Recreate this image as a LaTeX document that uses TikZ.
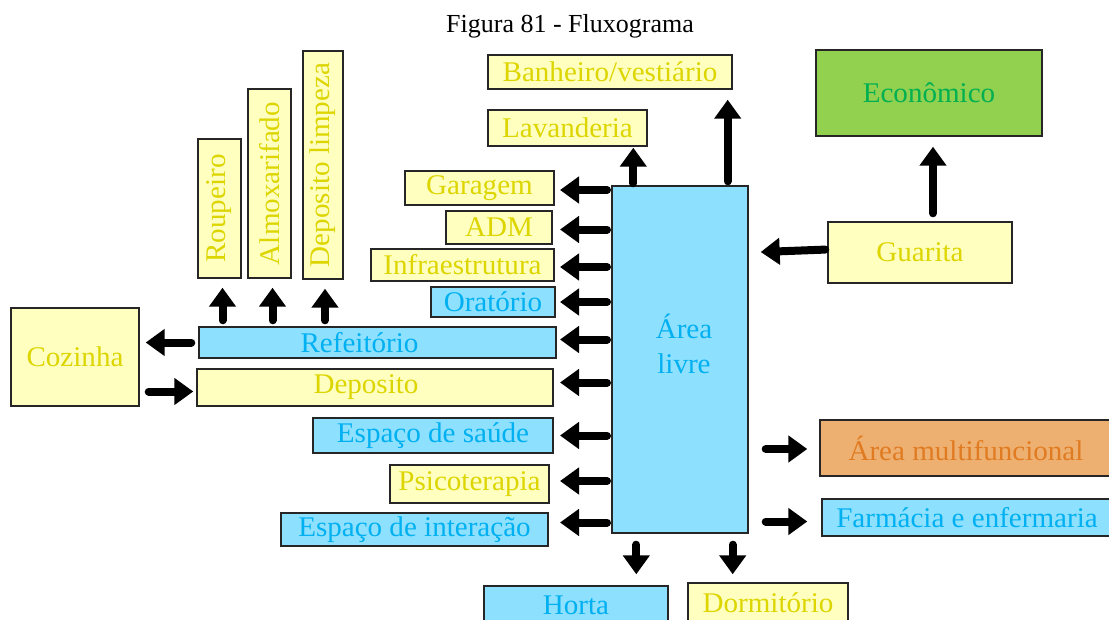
\documentclass[tikz,border=0pt]{standalone}
\usepackage{fontspec}
\setmainfont{Liberation Serif}[FakeStretch=1.02]
\newfontfamily\titlefont{Liberation Serif}
\usetikzlibrary{arrows.meta}
\definecolor{yfill}{HTML}{FFFFC0}
\definecolor{ytext}{HTML}{DDD500}
\definecolor{bfill}{HTML}{8EE0FF}
\definecolor{btext}{HTML}{00B0F0}
\definecolor{gfill}{HTML}{92D050}
\definecolor{gtext}{HTML}{00B050}
\definecolor{ofill}{HTML}{EEB070}
\definecolor{otext}{HTML}{E07B22}
\definecolor{boxline}{HTML}{262626}
\begin{document}
\begin{tikzpicture}[x=1pt,y=-1pt,
  box/.style={draw=boxline, line width=1.4pt, inner sep=0pt, font=\fontsize{28.5}{30}\selectfont},
  ybox/.style={box, fill=yfill, text=ytext},
  bbox/.style={box, fill=bfill, text=btext},
  gbox/.style={box, fill=gfill, text=gtext},
  obox/.style={box, fill=ofill, text=otext},
  arr/.style={line width=8pt, line cap=round, -{Triangle[width=26pt,length=19pt]}}]
\useasboundingbox (0,0) rectangle (1109,619);
\clip (0,0) rectangle (1109,619);
\node[font=\titlefont\fontsize{26}{28}\selectfont] (title) at (570,26) {Figura 81 - Fluxograma};
% boxes
\node[ybox, minimum width=244pt, minimum height=34pt] (ban) at (610,72) {Banheiro/vestiário};
\node[ybox, minimum width=159pt, minimum height=36pt] (lav) at (567.5,128) {Lavanderia};
\node[ybox, minimum width=149pt, minimum height=34pt] (gar) at (479.5,188) {Garagem};
\node[ybox, minimum width=106pt, minimum height=33pt] (adm) at (499,227.5) {ADM};
\node[ybox, minimum width=183pt, minimum height=32pt] (inf) at (462.5,265) {Infraestrutura};
\node[bbox, minimum width=124pt, minimum height=30pt] (ora) at (493,302) {Oratório};
\node[bbox, minimum width=357pt, minimum height=31pt] (ref) at (377.5,342.5) {Refeitório\hspace*{36pt}};
\node[ybox, minimum width=356pt, minimum height=37pt] (dep) at (375,387.5) {Deposito\hspace*{18pt}};
\node[bbox, minimum width=240pt, minimum height=35pt] (sau) at (433,435.5) {Espaço de saúde};
\node[ybox, minimum width=159pt, minimum height=38pt] (psi) at (469.5,484) {Psicoterapia};
\node[bbox, minimum width=267pt, minimum height=33pt] (int) at (414.5,529.5) {Espaço de interação};
\node[bbox, minimum width=184pt, minimum height=38pt] (hor) at (576,605) {Horta};
\node[ybox, minimum width=160pt, minimum height=40pt] (dor) at (768,603) {Dormitório};
\node[bbox, minimum width=136pt, minimum height=347pt] (area) at (680,359.5) {};
\node[font=\fontsize{28.5}{35}\selectfont, text=btext, align=center] (areatxt) at (684,344) {Área\\livre};
\node[obox, minimum width=292pt, minimum height=56pt] (mul) at (966,448) {Área multifuncional};
\node[bbox, minimum width=290pt, minimum height=37pt] (far) at (967,517.5) {Farmácia e enfermaria};
\node[gbox, minimum width=226pt, minimum height=86pt] (eco) at (929,93) {Econômico};
\node[ybox, minimum width=184pt, minimum height=61pt] (gua) at (920,252.5) {Guarita};
\node[ybox, minimum width=128pt, minimum height=98pt] (coz) at (75,357) {Cozinha};
\node[ybox, rotate=90, minimum width=139pt, minimum height=43pt] (rou) at (219.5,208.5) {Roupeiro};
\node[ybox, rotate=90, minimum width=189pt, minimum height=43pt] (alm) at (269.5,183.5) {Almoxarifado};
\node[ybox, rotate=90, minimum width=228pt, minimum height=40pt] (dlp) at (323,165) {Deposito limpeza};
% helper coordinates for left arrows
\coordinate (lf) at (607,0);
\coordinate (lt) at (560,0);
\draw[arr] ([yshift=-2pt]gar.east -| lf) -- ([yshift=-2pt]gar.east -| lt);
\draw[arr] ([yshift=-2pt]adm.east -| lf) -- ([yshift=-2pt]adm.east -| lt);
\draw[arr] ([yshift=-2pt]inf.east -| lf) -- ([yshift=-2pt]inf.east -| lt);
\draw[arr] (ora.east -| lf) -- (ora.east -| lt);
\draw[arr] ([yshift=3pt]ref.east -| lf) -- ([yshift=3pt]ref.east -| lt);
\draw[arr] ([yshift=5pt]dep.east -| lf) -- ([yshift=5pt]dep.east -| lt);
\draw[arr] (sau.east -| lf) -- (sau.east -| lt);
\draw[arr] ([yshift=3pt]psi.east -| lf) -- ([yshift=3pt]psi.east -| lt);
\draw[arr] ([yshift=7pt]int.east -| lf) -- ([yshift=7pt]int.east -| lt);
% top arrows
\draw[arr, shorten >=1pt] ([xshift=22pt,yshift=2pt]area.north west) -- ([xshift=22pt]area.north west |- lav.south);
\draw[arr, shorten >=10pt] ([xshift=-21pt,yshift=4pt]area.north east) -- ([xshift=-21pt]area.north east |- ban.south);
\draw[arr, shorten <=8pt, shorten >=10pt] ([xshift=13pt]gua.north) -- ([xshift=13pt]gua.north |- eco.south);
\draw[arr, shorten <=2pt, shorten >=12pt] ([yshift=3pt]gua.west) -- (gua.west -| area.east);
% right arrows
\draw[arr, shorten <=17pt, shorten >=12pt] ([yshift=-1pt]mul.west -| area.east) -- ([yshift=-1pt]mul.west);
\draw[arr, shorten <=17pt, shorten >=14pt] ([yshift=-4pt]far.west -| area.east) -- ([yshift=-4pt]far.west);
% down arrows
\draw[arr, shorten <=11pt, shorten >=11pt] ([xshift=25pt]area.south west) -- ([xshift=25pt]area.south west |- hor.north);
\draw[arr, shorten <=11pt, shorten >=8pt] ([xshift=-16pt]area.south east) -- ([xshift=-16pt]area.south east |- dor.north);
% refeitorio / cozinha
\draw[arr, shorten <=6pt, shorten >=9pt] ([xshift=3pt]ref.north -| rou.west) -- ([xshift=3pt]rou.west);
\draw[arr, shorten <=6pt, shorten >=9pt] ([xshift=3pt]ref.north -| alm.west) -- ([xshift=3pt]alm.west);
\draw[arr, shorten <=6pt, shorten >=9pt] ([xshift=2pt]ref.north -| dlp.west) -- ([xshift=2pt]dlp.west);
\draw[arr, shorten <=7pt, shorten >=6pt] (ref.west) -- (ref.west -| coz.east);
\draw[arr, shorten <=9pt, shorten >=3pt] ([yshift=-4pt]dep.west -| coz.east) -- ([yshift=-4pt]dep.west);
\end{tikzpicture}
\end{document}
